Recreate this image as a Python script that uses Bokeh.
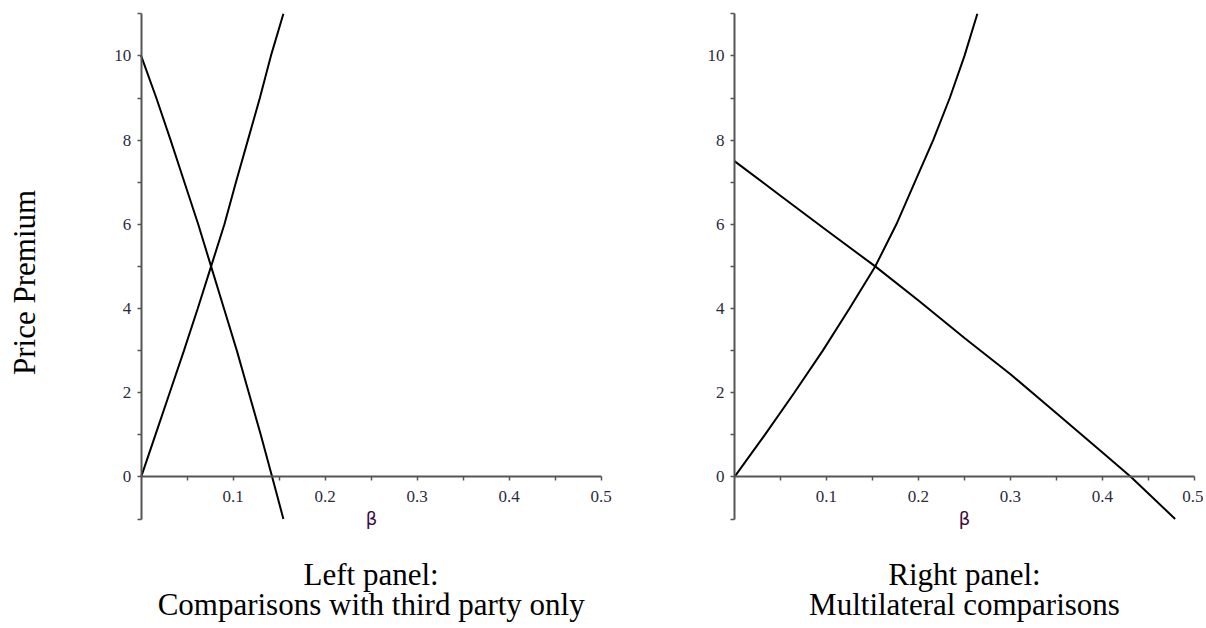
import math
from bokeh.plotting import figure
from bokeh.layouts import row
from bokeh.models import FixedTicker, Label, Range1d, PrintfTickFormatter
from bokeh.embed import file_html
from bokeh.resources import INLINE

# ---- data ----
x_major = [0.1, 0.2, 0.3, 0.4, 0.5]
x_minor = [0.05, 0.15, 0.25, 0.35, 0.45]
y_major = [0, 2, 4, 6, 8, 10]
y_minor = [-1, 1, 3, 5, 7, 9, 11]

# Left panel: comparisons with third party only
left_up_beta = [0, 0.0155, 0.031, 0.0465, 0.0615, 0.076, 0.0905, 0.103, 0.116, 0.129, 0.141, 0.1546]
left_up_prem = [0, 1, 2, 3, 4, 5, 6, 7, 8, 9, 10, 11]
left_down_beta = [0, 0.0165, 0.032, 0.047, 0.062, 0.076, 0.090, 0.104, 0.117, 0.130, 0.1424, 0.1546]
left_down_prem = [10, 9, 8, 7, 6, 5, 4, 3, 2, 1, 0, -1]

# Right panel: multilateral comparisons
right_up_beta = [0, 0.033, 0.065, 0.096, 0.125, 0.153, 0.176, 0.196, 0.216, 0.234, 0.25, 0.264]
right_up_prem = [0, 1, 2, 3, 4, 5, 6, 7, 8, 9, 10, 11]
right_down_beta = [0, 0.05, 0.1, 0.153, 0.2, 0.25, 0.3, 0.35, 0.4, 0.431, 0.479]
right_down_prem = [7.5, 6.68, 5.86, 5.0, 4.19, 3.3, 2.44, 1.51, 0.58, 0.0, -1.0]

x_label = "β"
y_label = "Price Premium"
left_caption = ["Left panel:", "Comparisons with third party only"]
right_caption = ["Right panel:", "Multilateral comparisons"]

SERIF = "Liberation Serif"
TICK_COLOR = "#2b2b40"
AXIS_COLOR = "#555555"
FIG_H = 626
Y_RANGE = (-3.553, 11.316)


def make_panel(width, x_start, x_end, curves, captions, ylabel=None):
    p = figure(width=width, height=FIG_H,
               x_range=Range1d(x_start, x_end), y_range=Range1d(*Y_RANGE),
               output_backend="svg", toolbar_location=None,
               min_border=0, min_border_left=0, min_border_right=0,
               min_border_top=0, min_border_bottom=0)
    p.grid.visible = False
    p.outline_line_color = None
    p.background_fill_color = "white"
    p.border_fill_color = "white"

    for bx, by in curves:
        p.line(bx, by, line_color="black", line_width=2)

    # x axis crossing at premium = 0
    xa = p.xaxis[0]
    xa.fixed_location = 0
    xa.bounds = (0, 0.5)
    xa.ticker = FixedTicker(ticks=x_major, minor_ticks=x_minor)
    xa.formatter = PrintfTickFormatter(format="%.1f")
    xa.axis_label = x_label
    xa.axis_label_text_font = "DejaVu Sans"
    xa.axis_label_text_font_size = "18px"
    xa.axis_label_text_font_style = "normal"
    xa.axis_label_text_color = "#3c0a3c"
    xa.axis_label_standoff = 3
    xa.major_label_standoff = 10

    # y axis at beta = 0
    ya = p.yaxis[0]
    ya.fixed_location = 0
    ya.bounds = (-1, 11)
    ya.ticker = FixedTicker(ticks=y_major, minor_ticks=y_minor)
    ya.major_label_standoff = 6

    for ax in (xa, ya):
        ax.major_label_text_font = SERIF
        ax.major_label_text_font_size = "17px"
        ax.major_label_text_color = TICK_COLOR
        ax.axis_line_color = AXIS_COLOR
        ax.axis_line_width = 2
        ax.major_tick_line_color = AXIS_COLOR
        ax.minor_tick_line_color = AXIS_COLOR
        ax.major_tick_line_width = 1.5
        ax.minor_tick_line_width = 1.5
        ax.major_tick_in = 0
        ax.major_tick_out = 4
        ax.minor_tick_in = 0
        ax.minor_tick_out = 4

    for txt, yv in zip(captions, (-2.32, -3.02)):
        p.add_layout(Label(x=0.25, y=yv, text=txt, text_align="center",
                           text_baseline="alphabetic", text_font=SERIF,
                           text_font_size="31px", text_color="black"))
    if ylabel:
        p.add_layout(Label(x=-0.1265, y=4.62, text=ylabel, angle=math.pi / 2,
                           text_align="center", text_baseline="alphabetic",
                           text_font=SERIF, text_font_size="31px",
                           text_color="black"))
    return p


left = make_panel(621, -0.1529, 0.5221,
                  [(left_up_beta, left_up_prem), (left_down_beta, left_down_prem)],
                  left_caption, ylabel=y_label)
right = make_panel(582, -0.1228, 0.5098,
                   [(right_up_beta, right_up_prem), (right_down_beta, right_down_prem)],
                   right_caption)

layout = row(left, right, spacing=0)
open("out.html", "w").write(file_html(layout, INLINE))
